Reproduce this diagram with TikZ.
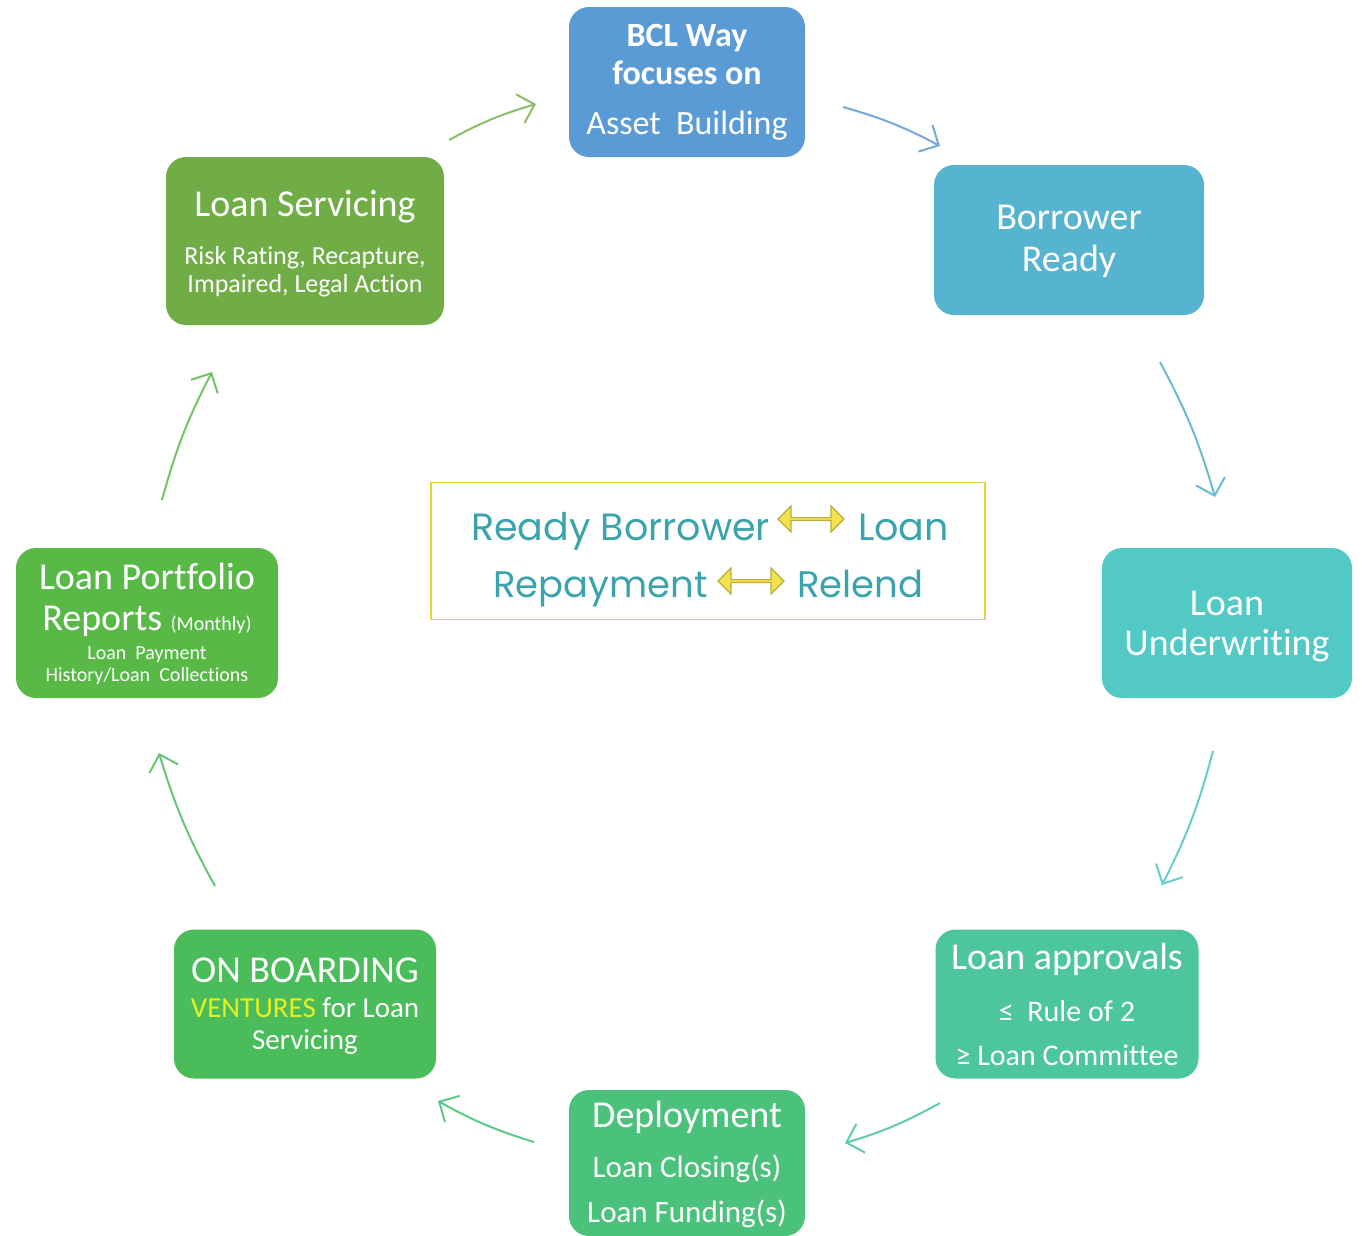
\documentclass[tikz,border=0pt]{standalone}
\usepackage{fontspec}
\setmainfont{Carlito}[Ligatures=NoCommon]
\newfontfamily\geofont{Poppins}
\usetikzlibrary{arrows.meta,shapes.arrows,positioning}

\definecolor{bclblue}{HTML}{5B9BD5}
\definecolor{readyblue}{HTML}{57B4D0}
\definecolor{underteal}{HTML}{52C9C5}
\definecolor{approvgreen}{HTML}{4DC6A0}
\definecolor{deploygreen}{HTML}{4BC27B}
\definecolor{boardgreen}{HTML}{4ABD5A}
\definecolor{reportgreen}{HTML}{58B947}
\definecolor{servgreen}{HTML}{71AD47}
\definecolor{venturesyellow}{HTML}{E6F01E}
\definecolor{coreline}{HTML}{E3D23C}
\definecolor{coretext}{HTML}{3AA3AD}
\definecolor{swapfill}{HTML}{F2E24E}
\definecolor{swapedge}{HTML}{BBAC3E}

\tikzset{
  stage/.style={rounded corners=20pt, fill=#1, text=white, align=center, inner sep=0pt},
  flow/.style={draw=#1, line width=2pt, bend left=6,
    -{Straight Barb[length=15pt,width=30pt]}},
  swap/.style={double arrow, draw=swapedge, fill=swapfill, line width=1.2pt,
    minimum width=26pt, minimum height=66pt, inner sep=0pt,
    double arrow head extend=5pt},
  core/.style={font=\geofont\fontsize{37}{40}\selectfont, text=coretext, inner sep=0pt}
}

\begin{document}
\begin{tikzpicture}[x=1pt,y=-1pt]
  \useasboundingbox (0,0) rectangle (1362,1235);

  % Cycle stages
  \node[stage=bclblue, minimum width=236pt, minimum height=150pt,
        font=\fontsize{34}{38}\selectfont] (bcl) at (687,82)
    {\bfseries BCL Way\\\bfseries focuses on\\[12pt]Asset\ \ Building};
  \node[stage=readyblue, minimum width=270pt, minimum height=150pt,
        font=\fontsize{38}{42}\selectfont, text depth=4pt] (ready) at (1069,240)
    {Borrower\\Ready};
  \node[stage=underteal, minimum width=250pt, minimum height=150pt,
        font=\fontsize{38}{40}\selectfont, text depth=-4pt] (under) at (1227,623)
    {Loan\\Underwriting};
  \node[stage=approvgreen, minimum width=263pt, minimum height=149pt,
        font=\fontsize{38}{38}\selectfont] (approv) at (1067,1004)
    {Loan approvals\\[14pt]{\fontsize{30}{30}\selectfont ≤\ \ Rule of 2}\\[6pt]{\fontsize{30}{30}\selectfont ≥ Loan Committee}};
  \node[stage=deploygreen, minimum width=236pt, minimum height=146pt,
        font=\fontsize{38}{38}\selectfont, text depth=2pt] (deploy) at (687,1163)
    {Deployment\\[12pt]{\fontsize{31}{31}\selectfont Loan Closing(s)}\\[7pt]{\fontsize{31}{31}\selectfont Loan Funding(s)}};
  \node[stage=boardgreen, minimum width=262pt, minimum height=149pt,
        font=\fontsize{38}{35}\selectfont, text depth=0pt] (board) at (305,1004)
    {ON BOARDING\\{\fontsize{29}{29}\selectfont\textcolor{venturesyellow}{VENTURES} for Loan}\\[-3pt]{\fontsize{29}{29}\selectfont Servicing}};
  \node[stage=reportgreen, minimum width=262pt, minimum height=150pt,
        font=\fontsize{38}{36}\selectfont, text depth=1pt] (report) at (147,623)
    {Loan Portfolio\\[5pt]Reports {\fontsize{20}{20}\selectfont (Monthly)}\\[-7pt]{\fontsize{20}{20}\selectfont Loan\ \ Payment}\\[-14pt]{\fontsize{20}{20}\selectfont History/Loan\ \ Collections}};
  \node[stage=servgreen, minimum width=278pt, minimum height=168pt,
        font=\fontsize{38}{40}\selectfont, text depth=-3pt] (serv) at (305,241)
    {Loan Servicing\\[8pt]{\fontsize{26}{26}\selectfont Risk Rating, Recapture,}\\[-12pt]{\fontsize{26}{26}\selectfont Impaired, Legal Action}};

  % Centre message
  \node[draw=coreline, line width=1.5pt, minimum width=554pt, minimum height=137pt] (core) at (708,551) {};
  \node[core, font=\geofont\fontsize{38}{40}\selectfont, anchor=base west] (readytxt) at (471,540) {Ready Borrower};
  \node[swap] (swapa) at (811,519) {};
  \node[core, font=\geofont\fontsize{38}{40}\selectfont, anchor=base west] (loantxt) at (858,540) {Loan};
  \node[core, anchor=base west] (repaytxt) at (493,597) {Repayment};
  \node[swap] (swapb) at (751,581) {};
  \node[core, anchor=base west] (relendtxt) at (797,597) {Relend};

  % Arrow ends
  \coordinate (a1s) at (449,140); \coordinate (a1e) at (536,104);
  \coordinate (a2s) at (843,107); \coordinate (a2e) at (940,146);
  \coordinate (a3s) at (1160,362); \coordinate (a3e) at (1215,497);
  \coordinate (a4s) at (1213,751); \coordinate (a4e) at (1162,885);
  \coordinate (a5s) at (940,1103); \coordinate (a5e) at (845,1143);
  \coordinate (a6s) at (534,1142); \coordinate (a6e) at (438,1101);
  \coordinate (a7s) at (215,886); \coordinate (a7e) at (159,753);
  \coordinate (a8s) at (162,500); \coordinate (a8e) at (212,372);

  % Flow arrows
  \draw[flow=servgreen!80] (a1s) to (a1e);
  \draw[flow=bclblue!85] (a2s) to (a2e);
  \draw[flow=readyblue!90] (a3s) to (a3e);
  \draw[flow=underteal!90] (a4s) to (a4e);
  \draw[flow=approvgreen!90] (a5s) to (a5e);
  \draw[flow=deploygreen!90] (a6s) to (a6e);
  \draw[flow=boardgreen!85] (a7s) to (a7e);
  \draw[flow=reportgreen!85] (a8s) to (a8e);
\end{tikzpicture}
\end{document}
